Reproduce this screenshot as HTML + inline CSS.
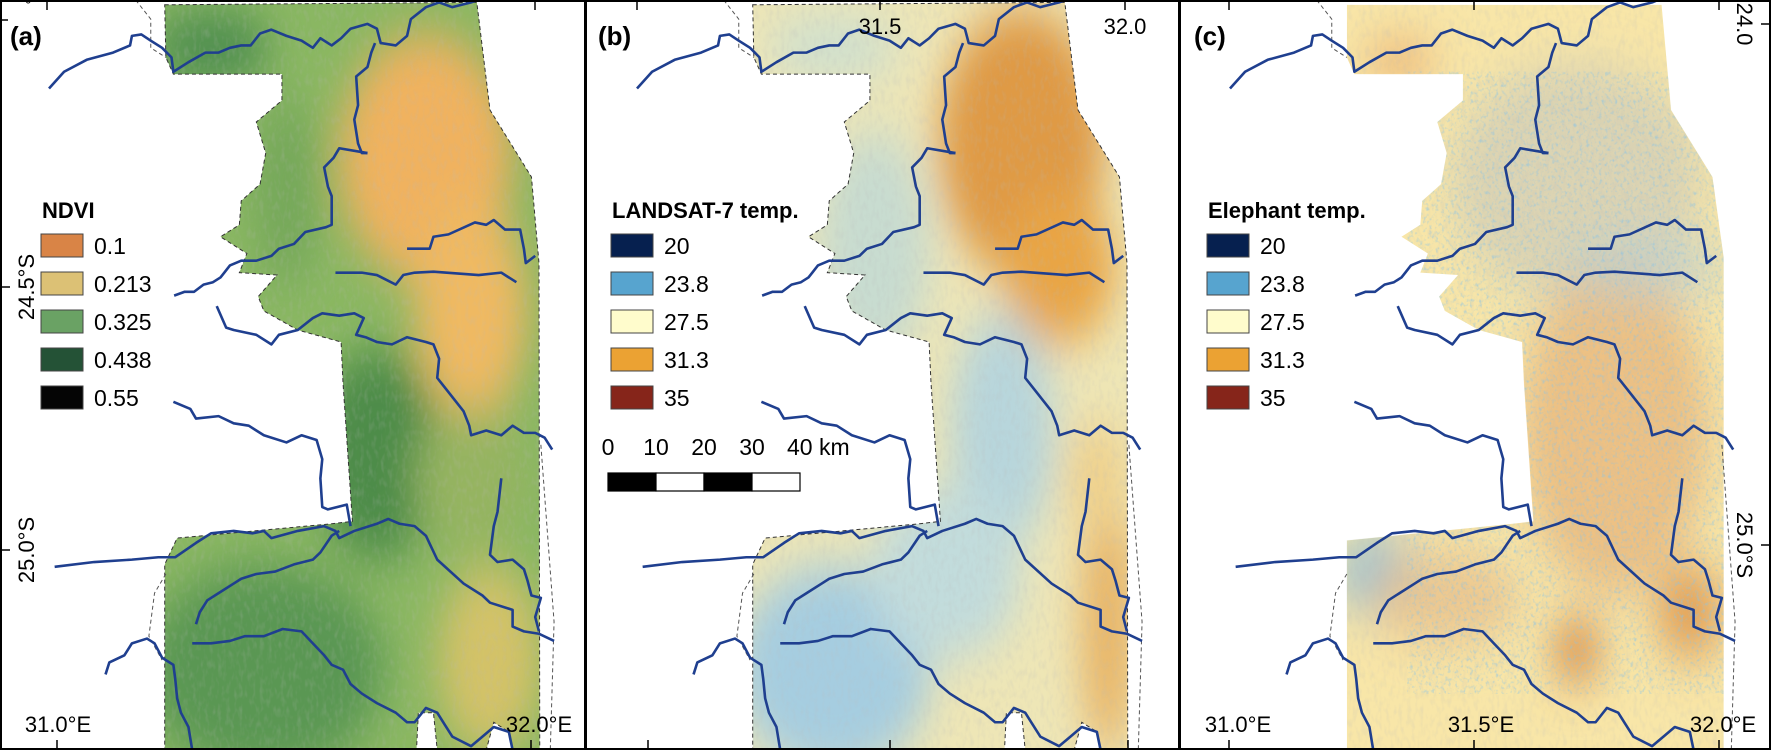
<!DOCTYPE html>
<html><head><meta charset="utf-8"><style>
html,body{margin:0;padding:0;background:#fff;}
svg{display:block;font-family:"Liberation Sans",sans-serif;}
</style></head><body>
<svg id="fig" width="1771" height="750" viewBox="0 0 1771 750" xmlns="http://www.w3.org/2000/svg">
<defs>
<filter id="blur" x="-50%" y="-50%" width="200%" height="200%"><feGaussianBlur stdDeviation="50"/></filter>
<filter id="noise" x="0" y="0" width="100%" height="100%">
<feTurbulence type="fractalNoise" baseFrequency="0.09 0.05" numOctaves="2" seed="3"/>
<feColorMatrix type="matrix" values="0 0 0 0 0.5  0 0 0 0 0.5  0 0 0 0 0.5  2.2 0 0 0 -1.0"/>
</filter>
<filter id="speck" x="0" y="0" width="100%" height="100%">
<feTurbulence type="fractalNoise" baseFrequency="0.12" numOctaves="2" seed="7"/>
<feColorMatrix type="matrix" values="0 0 0 0 0.25  0 0 0 0 0.55  0 0 0 0 0.8  3 0 0 0 -1.55"/>
</filter>
</defs>
<g id="panels"></g>
<g id="overlay"></g>
</svg>
<script>
const NS="http://www.w3.org/2000/svg";
const areaPoly=[[437,10],[1265,5],[1300,230],[1410,370],[1430,550],[1432,1568],[1360,1568],[1350,1530],[1310,1510],[1290,1568],[1160,1568],[1150,1490],[1110,1490],[1105,1568],[437,1568],[437,1180],[470,1125],[880,1095],[935,1090],[910,800],[905,715],[790,690],[700,650],[685,620],[735,575],[635,570],[655,530],[585,495],[635,470],[640,420],[690,385],[705,320],[680,255],[748,210],[748,155],[460,155],[440,120]];
const polyC=[[440,10],[1275,10],[1300,230],[1410,370],[1440,540],[1440,1568],[440,1568],[440,1130],[880,1095],[935,1090],[910,800],[905,715],[790,690],[700,650],[685,620],[735,575],[635,570],[655,530],[585,495],[635,470],[640,420],[690,385],[705,320],[680,255],[748,210],[748,155],[460,155],[440,120]];
const rivers=[
"130,185 170,150 230,125 300,110 345,95 350,75 375,72 400,85 430,100 455,120 460,150 500,130 545,110 580,110 610,100 640,95 665,95 690,70 720,62 760,75 800,85 830,100 850,80 880,95 905,80 930,60 975,50 1000,60 1010,90 1050,95 1080,75 1090,40 1130,15 1165,5 1200,15 1250,5 1265,0",
"995,90 985,110 975,140 945,160 950,220 940,250 950,300 960,320 975,320",
"975,320 900,310 885,330 860,350 870,390 880,410 880,470 865,475 810,485 780,510 740,520 720,535 680,545 640,545 610,555 595,570 585,580 565,590 540,595 515,610 490,610 462,618",
"890,570 960,570 1000,575 1050,595 1070,575 1100,570 1150,568 1270,575 1330,570 1370,590",
"1080,520 1140,520 1150,495 1190,490 1260,465 1290,470 1310,460 1340,480 1380,480 1390,520 1395,550 1420,535",
"575,640 600,685 620,690 680,700 720,720 740,700 790,690 830,665 855,655 900,660 940,655 965,665 945,700 970,705 1000,715 1040,720 1080,705 1130,715 1150,720 1165,750 1160,790 1190,820 1230,860 1245,890 1250,910 1290,900 1330,910 1360,890 1390,905 1420,905 1445,915 1465,940",
"460,840 505,855 520,875 580,870 620,885 660,890 700,910 760,925 800,910 840,920 855,960 850,1000 855,1060 870,1065 920,1055 930,1100",
"145,1185 250,1175 350,1170 420,1165 465,1165 520,1135 560,1115 620,1110 670,1115 700,1110 720,1125 790,1110 860,1100 890,1110 900,1125 940,1110 1000,1095 1030,1085 1060,1095 1100,1100 1130,1120 1160,1170 1230,1220 1280,1245 1300,1260 1360,1275 1360,1310 1390,1320 1430,1325 1470,1340",
"1330,1000 1320,1070 1310,1100 1300,1160 1320,1175 1360,1170 1390,1190 1400,1215 1410,1245 1435,1250 1420,1290 1430,1320",
"520,1305 530,1280 550,1255 580,1240 620,1220 640,1210 680,1200 730,1195 780,1180 830,1170 850,1155 880,1120 900,1110",
"280,1410 290,1385 330,1370 350,1345 390,1335 410,1345 430,1375 460,1390 465,1420 470,1460 480,1490 500,1520 510,1568",
"510,1345 560,1345 610,1340 650,1330 700,1330 750,1315 800,1320 830,1345 860,1370 880,1390 910,1400 930,1430 960,1450 1000,1470 1050,1490 1080,1510 1100,1510 1130,1480 1160,1490 1180,1515 1200,1540 1250,1560 1280,1540 1310,1520 1350,1530 1360,1568"];
const borders=["360,0 400,40 400,100 440,120","440,1200 410,1240 395,1330 430,1380","1435,930 1470,1300 1460,1568"];
const blobsA=[[560,100,160,80,"#4f8f4f",1],[1130,330,230,260,"#f0b25e",1],[1250,650,150,230,"#efb962",1],[1000,950,170,220,"#4d8c48",1],[700,1400,320,220,"#5a9752",1],[1300,1380,140,200,"#d3c268",1],[760,400,90,200,"#76a85a",1],[1250,1000,150,150,"#95b460",1]];
const blobsB=[[1150,300,220,280,"#df9a45",1],[1250,560,150,160,"#e9a545",1],[650,100,180,70,"#cfe0cf",1],[760,520,150,250,"#c8dcd0",1],[1100,900,140,250,"#b8d6dc",1],[650,1400,260,220,"#a6cde0",1],[950,1200,200,180,"#c2dcdc",1],[1380,1300,70,280,"#e8b262",1],[1350,1000,80,120,"#efd08a",1]];
const blobsC=[[1050,380,330,250,"#d8d2b4",0.9],[1150,900,250,350,"#ebbd80",0.9],[1230,560,220,60,"#c0d0cc",0.8],[520,1200,110,90,"#9fc3d2",1],[1050,1360,60,70,"#d98a40",1],[1350,1280,90,100,"#e3a055",1],[700,1250,200,100,"#eac08a",0.8],[580,130,100,40,"#eab070",1]];
const panels=[{x:0,base:"#8ab762",blobs:blobsA,poly:areaPoly,tag:"a"},{x:588,base:"#eee6b6",blobs:blobsB,poly:areaPoly,tag:"b"},{x:1181,base:"#f8e6a8",blobs:blobsC,poly:polyC,tag:"c"}];
const SX=591/1568, SY=750/1568;
const root=document.getElementById('panels');
function mk(t,a,p){const e=document.createElementNS(NS,t);for(const k in a)e.setAttribute(k,a[k]);(p||root).appendChild(e);return e;}
panels.forEach(p=>{
  const g=mk('g',{transform:`translate(${p.x},0) scale(${SX},${SY})`});
  
  
  const cid='clip'+p.tag;
  const cp=mk('clipPath',{id:cid},g);
  mk('polygon',{points:p.poly.map(q=>q.join(',')).join(' ')},cp);
  const rg=mk('g',{'clip-path':`url(#${cid})`},g);
  
  
  mk('rect',{x:0,y:0,width:1568,height:1568,fill:p.base},rg);
  const bg=mk('g',{filter:'url(#blur)'},rg);
  p.blobs.forEach(b=>mk('ellipse',{cx:b[0],cy:b[1],rx:b[2],ry:b[3],fill:b[4],opacity:b[5]},bg));
  mk('rect',{x:0,y:0,width:1568,height:1568,filter:'url(#noise)',opacity:0.22},rg);
  if(p.tag==='c'){
    mk('rect',{x:600,y:150,width:850,height:1300,filter:'url(#speck)',opacity:0.55},rg);
  }
  if(p.tag!=='c'){
    const ol=mk('polygon',{points:areaPoly.map(q=>q.join(',')).join(' '),fill:'none',stroke:'#333','stroke-width':1,'stroke-dasharray':'4 3','vector-effect':'non-scaling-stroke'},g);
    
    
  }
  borders.forEach(b=>mk('polyline',{points:b,fill:'none',stroke:'#555','stroke-width':1,'stroke-dasharray':'4 3','vector-effect':'non-scaling-stroke'},g));
  rivers.forEach(r=>{const l=mk('polyline',{points:r,fill:'none',stroke:'#1f3f8f','stroke-width':2.6,'stroke-linejoin':'round','vector-effect':'non-scaling-stroke'},g);
    
    });
});
</script>
<script>
const ov=document.getElementById('overlay');
function el(t,a,txt){const e=document.createElementNS("http://www.w3.org/2000/svg",t);for(const k in a)e.setAttribute(k,a[k]);if(txt!==undefined)e.textContent=txt;ov.appendChild(e);return e;}
[[0,0,1771,2],[0,748,1771,2],[0,0,2,750],[1769,0,2,750],[584,0,3,750],[1178,0,3,750]].forEach(r=>{const e=el('rect',{x:r[0],y:r[1],width:r[2],height:r[3],fill:'#000'});

});
[[47,0,47,10],[535,0,535,10],[57,740,57,750],[531,740,531,750],[0,287,10,287],[0,550,10,550],[0,20,8,20],
 [637,0,637,10],[880,0,880,10],[1125,0,1125,10],[648,740,648,750],[890,740,890,750],[1128,740,1128,750],
 [1229,0,1229,10],[1474,0,1474,10],[1719,0,1719,10],[1229,740,1229,750],[1474,740,1474,750],[1719,740,1719,750],[1761,24,1771,24],[1761,545,1771,545]
].forEach(t=>el('line',{x1:t[0],y1:t[1],x2:t[2],y2:t[3],stroke:'#000','stroke-width':1.5}));
const tf={'font-size':'22','fill':'#000'};
function txt(x,y,s,extra,name){const e=el('text',Object.assign({x:x,y:y},tf,extra||{}),s);return e;}
txt(10,45,'(a)',{'font-weight':'bold','font-size':'26'},'panel-label-a');
txt(598,45,'(b)',{'font-weight':'bold','font-size':'26'},'panel-label-b');
txt(1194,45,'(c)',{'font-weight':'bold','font-size':'26'},'panel-label-c');
txt(25,10,'°',{'font-size':'16'},'corner-label');
txt(58,732,'31.0°E',{'text-anchor':'middle'},'x-label-31-a');
txt(539,732,'32.0°E',{'text-anchor':'middle'},'x-label-32-a');
txt(880,34,'31.5',{'text-anchor':'middle'},'x-label-31.5-b');
txt(1125,34,'32.0',{'text-anchor':'middle'},'x-label-32-b');
txt(1238,732,'31.0°E',{'text-anchor':'middle'},'x-label-31-c');
txt(1481,732,'31.5°E',{'text-anchor':'middle'},'x-label-31.5-c');
txt(1723,732,'32.0°E',{'text-anchor':'middle'},'x-label-32-c');
txt(0,0,'24.5°S',{'text-anchor':'middle',transform:'translate(34,287) rotate(-90)'},'y-label-24.5');
txt(0,0,'25.0°S',{'text-anchor':'middle',transform:'translate(34,550) rotate(-90)'},'y-label-25.0');
txt(0,0,'24.0',{'text-anchor':'middle',transform:'translate(1737,24) rotate(90)'},'y-label-24.0-c');
txt(0,0,'25.0°S',{'text-anchor':'middle',transform:'translate(1737,545) rotate(90)'},'y-label-25.0-c');
const ndviLabels=['0.1','0.213','0.325','0.438','0.55'];
const ndviColors=['#d98446','#dcc175','#6aa264','#245236','#050505'];
const tempLabels=['20','23.8','27.5','31.3','35'];
const tempColors=['#06204f','#57a4cf','#fffccc','#eba233','#86251a'];
const legends=[{x:41,title:'NDVI',labels:ndviLabels,colors:ndviColors,name:'ndvi'},{x:611,title:'LANDSAT-7 temp.',labels:tempLabels,colors:tempColors,name:'landsat'},{x:1207,title:'Elephant temp.',labels:tempLabels,colors:tempColors,name:'elephant'}];
legends.forEach(L=>{
  txt(L.x+1,218,L.title,{'font-weight':'bold','font-size':'22'},'legend-title-'+L.name);
  L.labels.forEach((lb,i)=>{
    const r=el('rect',{x:L.x,y:234+i*38,width:42,height:23,fill:L.colors[i],stroke:'#444','stroke-width':1});
    
    
    txt(L.x+53,254+i*38,lb,{'font-size':'23'},'legend-entry');
  });
});
const sbLabels=['0','10','20','30','40 km'];
sbLabels.forEach((s,i)=>txt(608+i*48,455,s,{'font-size':'23','text-anchor':i==4?'start':'middle','dx':i==4?'-13':'0'},'scale-label'));
for(let i=0;i<4;i++){const r=el('rect',{x:608+i*48,y:473,width:48,height:18,fill:i%2?'#fff':'#000',stroke:'#000','stroke-width':1.2});

}
</script>
</body></html>
